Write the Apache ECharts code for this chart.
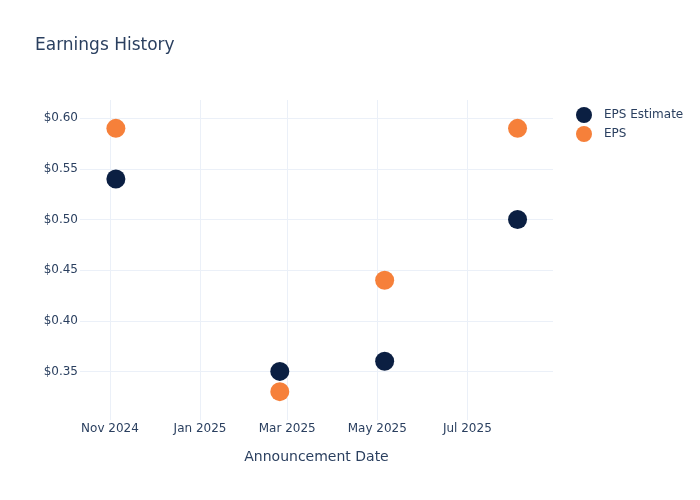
<!DOCTYPE html>
<html>
<head>
<meta charset="utf-8">
<script src="https://cdn.jsdelivr.net/npm/echarts@6/dist/echarts.min.js"></script>
<style>html,body{margin:0;padding:0;background:#fff}#chart{width:700px;height:500px}</style>
</head>
<body>
<div id="chart"></div>
<script>
const dates = ['2024-11-05', '2025-02-24', '2025-05-06', '2025-08-04'];
const epsEstimate = [0.54, 0.35, 0.36, 0.50];
const eps = [0.59, 0.33, 0.44, 0.59];
const xTickDates = ['2024-11-01', '2025-01-01', '2025-03-01', '2025-05-01', '2025-07-01'];
const xTickLabels = ['Nov 2024', 'Jan 2025', 'Mar 2025', 'May 2025', 'Jul 2025'];
const yTicks = [0.35, 0.40, 0.45, 0.50, 0.55, 0.60];
const seriesNames = ['EPS Estimate', 'EPS'];

const textColor = '#2a3f5f';
const gridColor = '#ebf0f8';
const font = 'DejaVu Sans';
const toTs = d => new Date(d + 'T00:00:00Z').getTime();
const labelMap = {};
xTickDates.forEach((d, i) => { labelMap[toTs(d)] = xTickLabels[i]; });

const chart = echarts.init(document.getElementById('chart'), null, {renderer: 'canvas'});
chart.setOption({
  animation: false,
  backgroundColor: '#fff',
  textStyle: {fontFamily: font},
  title: {
    text: 'Earnings History',
    left: 35, top: 37, padding: 0,
    textStyle: {fontFamily: font, fontSize: 17, fontWeight: 'normal', color: textColor}
  },
  legend: {
    orient: 'vertical',
    left: 576, top: 107, padding: 0,
    icon: 'circle',
    itemWidth: 30, itemHeight: 16, itemGap: 3,
    textStyle: {fontFamily: font, fontSize: 12, color: textColor},
    data: seriesNames
  },
  grid: {left: 80, right: 147, top: 100, bottom: 80, containLabel: false},
  xAxis: {
    type: 'value',
    min: toTs('2024-10-11') + 17 * 3600e3,
    max: toTs('2025-08-28'),
    name: 'Announcement Date',
    nameLocation: 'middle',
    nameGap: 30,
    nameTextStyle: {fontFamily: font, fontSize: 14, color: textColor},
    axisLine: {show: false},
    axisTick: {show: false, customValues: xTickDates.map(toTs)},
    axisLabel: {
      customValues: xTickDates.map(toTs),
      formatter: v => labelMap[v] || '',
      fontFamily: font, fontSize: 12, color: textColor, margin: 3,
      hideOverlap: false
    },
    splitLine: {show: true, lineStyle: {color: gridColor, width: 1}}
  },
  yAxis: {
    type: 'value',
    min: 0.302, max: 0.618,
    axisLine: {show: false},
    axisTick: {show: false, customValues: yTicks},
    axisLabel: {
      customValues: yTicks,
      formatter: v => '$' + v.toFixed(2),
      fontFamily: font, fontSize: 12, color: textColor, margin: 2
    },
    splitLine: {show: true, lineStyle: {color: gridColor, width: 1}}
  },
  series: [
    {
      name: seriesNames[0], type: 'scatter', symbol: 'circle', symbolSize: 19,
      itemStyle: {color: '#0b1f42', opacity: 1},
      data: dates.map((d, i) => [toTs(d), epsEstimate[i]]),
      z: 2
    },
    {
      name: seriesNames[1], type: 'scatter', symbol: 'circle', symbolSize: 19,
      itemStyle: {color: '#f6803a', opacity: 1},
      data: dates.map((d, i) => [toTs(d), eps[i]]),
      z: 3
    }
  ]
});
</script>
</body>
</html>
